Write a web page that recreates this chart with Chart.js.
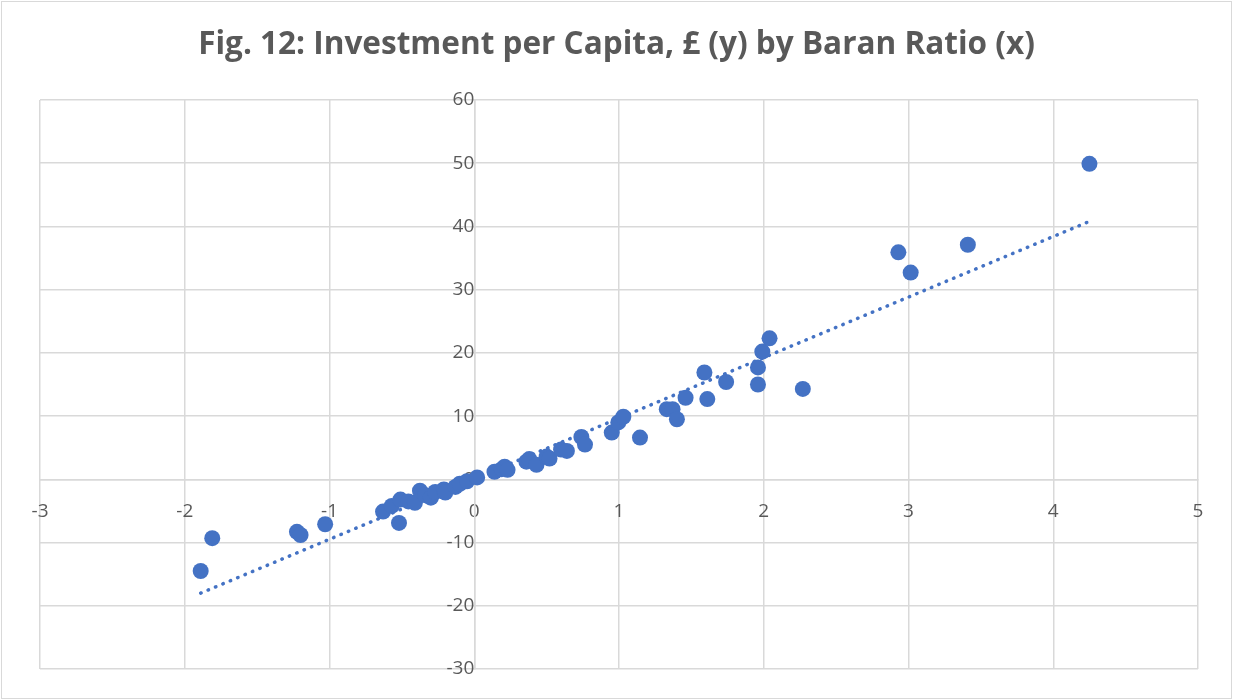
<!DOCTYPE html>
<html>
<head>
<meta charset="utf-8">
<script src="https://cdn.jsdelivr.net/npm/chart.js@4/dist/chart.umd.min.js"></script>
<style>
  html, body { margin: 0; padding: 0; background: #ffffff; }
  #wrap { position: relative; width: 1233px; height: 700px; overflow: hidden; }
  #frame { position: absolute; left: 1px; top: 1px; width: 1229px; height: 696px; border: 1px solid #d9d9d9; pointer-events: none; }
  #title { position: absolute; left: 0; top: 20px; width: 1233px; text-align: center;
           font-family: "Open Sans", sans-serif; font-weight: bold; font-size: 32px; color: #595959;
           transform: scaleX(0.985); transform-origin: 50% 50%; white-space: nowrap; }
  canvas { position: absolute; left: 0; top: 0; }
</style>
</head>
<body>
<div id="wrap">
  <canvas id="c" width="1233" height="700"></canvas>
  <div id="title">Fig. 12: Investment per Capita, £ (y) by Baran Ratio (x)</div>
  <div id="frame"></div>
</div>
<script>
const baranRatio = [-1.89, -1.81, -1.225, -1.20, -1.03, -0.63, -0.52, -0.57, -0.51, -0.455,
  -0.41, -0.375, -0.34, -0.30, -0.27, -0.21, -0.20, -0.13, -0.10, -0.05,
  0.02, 0.14, 0.19, 0.21, 0.23, 0.36, 0.38, 0.43, 0.50, 0.52,
  0.60, 0.64, 0.74, 0.765, 0.95, 0.995, 1.03, 1.145, 1.33, 1.37,
  1.40, 1.46, 1.59, 1.61, 1.74, 1.96, 1.96, 1.99, 2.04, 2.27,
  2.93, 3.015, 3.41, 4.25];
const investment = [-14.5, -9.3, -8.3, -8.8, -7.1, -5.1, -6.9, -4.2, -3.2, -3.5,
  -3.7, -1.8, -2.5, -2.9, -2.0, -1.6, -2.1, -1.2, -0.7, -0.3,
  0.3, 1.2, 1.6, 2.0, 1.5, 2.8, 3.2, 2.3, 3.6, 3.3,
  4.7, 4.5, 6.7, 5.5, 7.4, 9.0, 9.9, 6.6, 11.1, 11.1,
  9.5, 12.9, 16.9, 12.7, 15.4, 15.0, 17.7, 20.2, 22.3, 14.3,
  35.9, 32.7, 37.1, 49.9];
const trendX = [-1.89, 4.25];
const trendY = [-18.0, 40.8];
const xTicks = [-3, -2, -1, 0, 1, 2, 3, 4, 5];
const yTicks = [-30, -20, -10, 0, 10, 20, 30, 40, 50, 60];

const blue = '#4472C4';
const gridColor = '#d9d9d9';
const labelFont = { family: '"Open Sans", sans-serif', size: 19 };

const points = baranRatio.map((x, i) => ({ x: x, y: investment[i] }));
const trend = trendX.map((x, i) => ({ x: x, y: trendY[i] }));

new Chart(document.getElementById('c'), {
  type: 'scatter',
  data: {
    datasets: [
      {
        label: 'Investment per Capita',
        data: points,
        backgroundColor: blue,
        borderColor: blue,
        pointRadius: 8,
        pointBorderWidth: 0,
        order: 1
      },
      {
        label: 'Trend',
        type: 'line',
        data: trend,
        showLine: true,
        borderColor: blue,
        borderWidth: 3.5,
        borderDash: [0.5, 7.5],
        borderCapStyle: 'round',
        pointRadius: 0,
        fill: false,
        order: 2
      }
    ]
  },
  options: {
    responsive: false,
    animation: false,
    layout: { padding: { left: 40, top: 100, right: 35, bottom: 31 } },
    plugins: { legend: { display: false }, tooltip: { enabled: false }, title: { display: false } },
    scales: {
      x: {
        type: 'linear',
        min: -3, max: 5,
        position: { y: 0 },
        afterBuildTicks: (s) => { s.ticks = xTicks.map(v => ({ value: v })); },
        grid: { color: gridColor, lineWidth: 1.5, drawTicks: false },
        border: { color: gridColor, width: 1.5 },
        ticks: { color: '#595959', font: labelFont, padding: 21, maxRotation: 0 }
      },
      y: {
        type: 'linear',
        min: -30, max: 60,
        position: { x: 0 },
        afterBuildTicks: (s) => { s.ticks = yTicks.map(v => ({ value: v })); },
        grid: { color: gridColor, lineWidth: 1.5, drawTicks: false },
        border: { color: gridColor, width: 1.5 },
        ticks: { color: '#595959', font: labelFont, padding: 18 }
      }
    }
  }
});
</script>
</body>
</html>
